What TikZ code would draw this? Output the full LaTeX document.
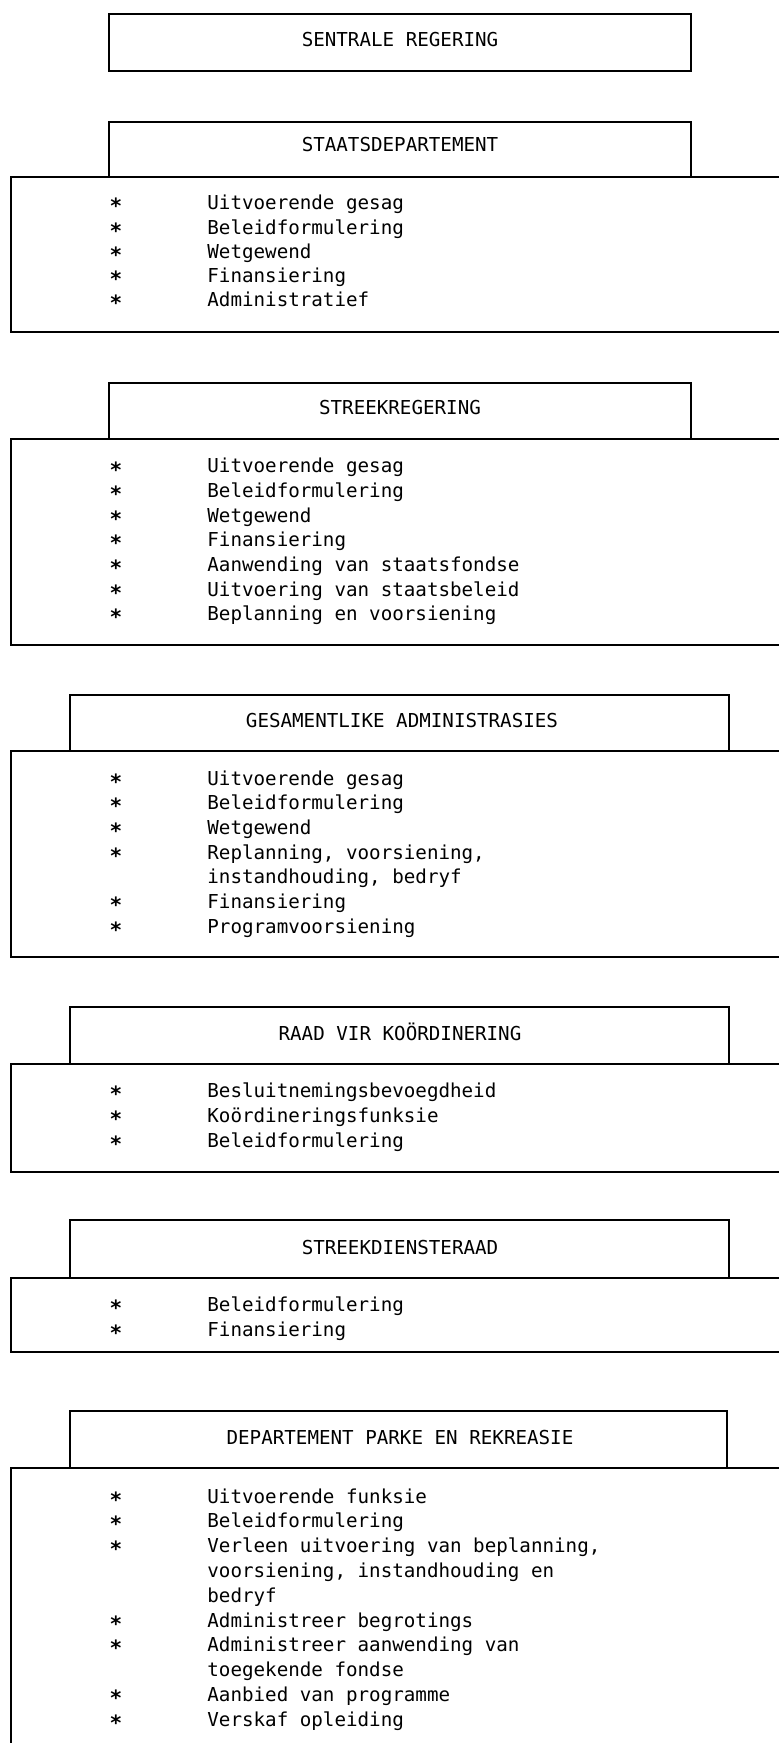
\documentclass[tikz,border=0pt]{standalone}
\usepackage{fontspec}
\setmonofont{DejaVu Sans Mono}

\tikzset{
    kopblok/.style={draw, line width=0.9pt},
    lyfblok/.style={draw, line width=0.9pt},
    koptxt/.style={font=\ttfamily\fontsize{9.6}{12}\selectfont, anchor=base, inner sep=0pt},
    ster/.style={font=\ttfamily\bfseries\fontsize{10.5}{12}\selectfont, anchor=base, inner sep=0pt, yshift=-2pt},
    punt/.style={font=\ttfamily\fontsize{9.6}{12}\selectfont, anchor=base west, inner sep=0pt},
}

\begin{document}
\begin{tikzpicture}[x=0.5pt, y=-0.5pt]

    \useasboundingbox (0,0) rectangle (779,1743);
    \clip (0,0) rectangle (779,1743);

    % ==================== SENTRALE REGERING ====================
    \draw[kopblok] (109,14) rectangle (691,71);
    \node[koptxt] (sr) at (400,47) {SENTRALE REGERING};

    % ==================== STAATSDEPARTEMENT ====================
    \begin{scope}[shift={(0,177)}]
        \draw[kopblok] (109,-55) rectangle (691,0);
        \node[koptxt] (sd) at (400,-25) {STAATSDEPARTEMENT};
        \draw[lyfblok] (11,0) rectangle (800,155);
        \foreach \s/\t [count=\i] in {*/Uitvoerende gesag, */Beleidformulering,
                                      */Wetgewend, */Finansiering, */Administratief}
        {
            \node[ster] (sd-s\i) at (116,{33+24.2*(\i-1)}) {\s};
            \node[punt] (sd-t\i) at (207,{33+24.2*(\i-1)}) {\t};
        }
    \end{scope}

    % ==================== STREEKREGERING ====================
    \begin{scope}[shift={(0,439)}]
        \draw[kopblok] (109,-56) rectangle (691,0);
        \node[koptxt] (sk) at (400,-24) {STREEKREGERING};
        \draw[lyfblok] (11,0) rectangle (800,206);
        \foreach \s/\t [count=\i] in {*/Uitvoerende gesag, */Beleidformulering,
                                      */Wetgewend, */Finansiering,
                                      */Aanwending van staatsfondse,
                                      */Uitvoering van staatsbeleid,
                                      */Beplanning en voorsiening}
        {
            \node[ster] (sk-s\i) at (116,{34+24.6*(\i-1)}) {\s};
            \node[punt] (sk-t\i) at (207,{34+24.6*(\i-1)}) {\t};
        }
    \end{scope}

    % ==================== GESAMENTLIKE ADMINISTRASIES ====================
    \begin{scope}[shift={(0,751)}]
        \draw[kopblok] (70,-56) rectangle (729,0);
        \node[koptxt] (ga) at (402,-24) {GESAMENTLIKE ADMINISTRASIES};
        \draw[lyfblok] (11,0) rectangle (800,206);
        \foreach \s/\t [count=\i] in {*/Uitvoerende gesag, */Beleidformulering,
                                      */Wetgewend, */{Replanning, voorsiening,},
                                      /{instandhouding, bedryf},
                                      */Finansiering, */Programvoorsiening}
        {
            \node[ster] (ga-s\i) at (116,{34+24.7*(\i-1)}) {\s};
            \node[punt] (ga-t\i) at (207,{34+24.7*(\i-1)}) {\t};
        }
    \end{scope}

    % ==================== RAAD VIR KOÖRDINERING ====================
    \begin{scope}[shift={(0,1064)}]
        \draw[kopblok] (70,-57) rectangle (729,0);
        \node[koptxt] (rk) at (400,-24) {RAAD VIR KOÖRDINERING};
        \draw[lyfblok] (11,0) rectangle (800,108);
        \foreach \s/\t [count=\i] in {*/Besluitnemingsbevoegdheid,
                                      */Koördineringsfunksie, */Beleidformulering}
        {
            \node[ster] (rk-s\i) at (116,{33+25*(\i-1)}) {\s};
            \node[punt] (rk-t\i) at (207,{33+25*(\i-1)}) {\t};
        }
    \end{scope}

    % ==================== STREEKDIENSTERAAD ====================
    \begin{scope}[shift={(0,1278)}]
        \draw[kopblok] (70,-58) rectangle (729,0);
        \node[koptxt] (sdr) at (400,-24) {STREEKDIENSTERAAD};
        \draw[lyfblok] (11,0) rectangle (800,74);
        \foreach \s/\t [count=\i] in {*/Beleidformulering, */Finansiering}
        {
            \node[ster] (sdr-s\i) at (116,{33+25*(\i-1)}) {\s};
            \node[punt] (sdr-t\i) at (207,{33+25*(\i-1)}) {\t};
        }
    \end{scope}

    % ==================== DEPARTEMENT PARKE EN REKREASIE ====================
    \begin{scope}[shift={(0,1468)}]
        \draw[kopblok] (70,-57) rectangle (727,0);
        \node[koptxt] (dpr) at (400,-24) {DEPARTEMENT PARKE EN REKREASIE};
        \draw[lyfblok] (11,0) rectangle (800,300);
        \foreach \s/\t [count=\i] in {*/Uitvoerende funksie, */Beleidformulering,
                                      */{Verleen uitvoering van beplanning,},
                                      /{voorsiening, instandhouding en},
                                      /bedryf,
                                      */Administreer begrotings,
                                      */Administreer aanwending van,
                                      /toegekende fondse,
                                      */Aanbied van programme,
                                      */Verskaf opleiding}
        {
            \node[ster] (dpr-s\i) at (116,{35+24.8*(\i-1)}) {\s};
            \node[punt] (dpr-t\i) at (207,{35+24.8*(\i-1)}) {\t};
        }
    \end{scope}

\end{tikzpicture}
\end{document}
